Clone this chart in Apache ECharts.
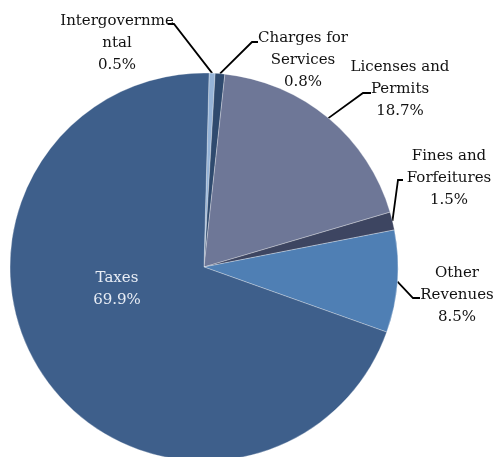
<!DOCTYPE html>
<html>
<head>
<meta charset="utf-8">
<script src="https://cdn.jsdelivr.net/npm/echarts@6/dist/echarts.min.js"></script>
<style>
  html, body { margin: 0; padding: 0; background: #fff; }
  #chart { width: 494px; height: 457px; }
</style>
</head>
<body>
<div id="chart"></div>
<script>
// == Data ====================================================================

const categories = [
  'Intergovernme\nntal',
  'Charges for\nServices',
  'Licenses and\nPermits',
  'Fines and\nForfeitures',
  'Other\nRevenues',
  'Taxes'
]
const shares = [0.5, 0.8, 18.7, 1.5, 8.5, 69.9]

// == Look ====================================================================

const colors = ['#95b3d7', '#2f4a6e', '#6e7797', '#3d4561', '#4f7fb4', '#3e5f8b']

// label centre + leader-line elbow / end, one per slice
const labelPos = [
  { x: 117, y: 43, elbow: [174, 24], end: [168, 24] },
  { x: 303, y: 60, elbow: [252, 42], end: [258, 42] },
  { x: 400, y: 89, elbow: [363, 93], end: [371, 93] },
  { x: 449, y: 178, elbow: [398, 180], end: [403, 180] },
  { x: 457, y: 295, elbow: [413, 298], end: [420, 298] },
  { x: 117, y: 289 }
]

const chart = echarts.init(document.getElementById('chart'))

chart.setOption({
  animation: false,
  color: colors,
  series: [{
    type: 'pie',
    center: [204, 267],
    radius: 194,
    startAngle: 88.5,
    clockwise: true,
    avoidLabelOverlap: false,
    itemStyle: { borderColor: 'rgba(255,255,255,0.6)', borderWidth: 0.5 },
    label: {
      show: true,
      fontFamily: 'DejaVu Serif',
      fontSize: 15,
      lineHeight: 22,
      color: '#111',
      align: 'center',
      formatter: p => p.name + '\n' + p.value.toFixed(1) + '%'
    },
    labelLine: {
      show: true,
      length: 10,
      length2: 10,
      lineStyle: { color: '#000', width: 1.8 }
    },
    labelLayout: params => {
      const pos = labelPos[params.dataIndex]
      const out = { x: pos.x, y: pos.y, align: 'center', verticalAlign: 'middle' }
      if (pos.elbow && params.labelLinePoints) {
        out.labelLinePoints = [params.labelLinePoints[0], pos.elbow, pos.end]
      }
      return out
    },
    data: categories.map((name, i) => {
      const item = { name, value: shares[i] }
      if (name === 'Taxes') {
        item.label = { position: 'inside', color: '#e8edf5' }
        item.labelLine = { show: false }
      }
      return item
    })
  }]
})
</script>
</body>
</html>
